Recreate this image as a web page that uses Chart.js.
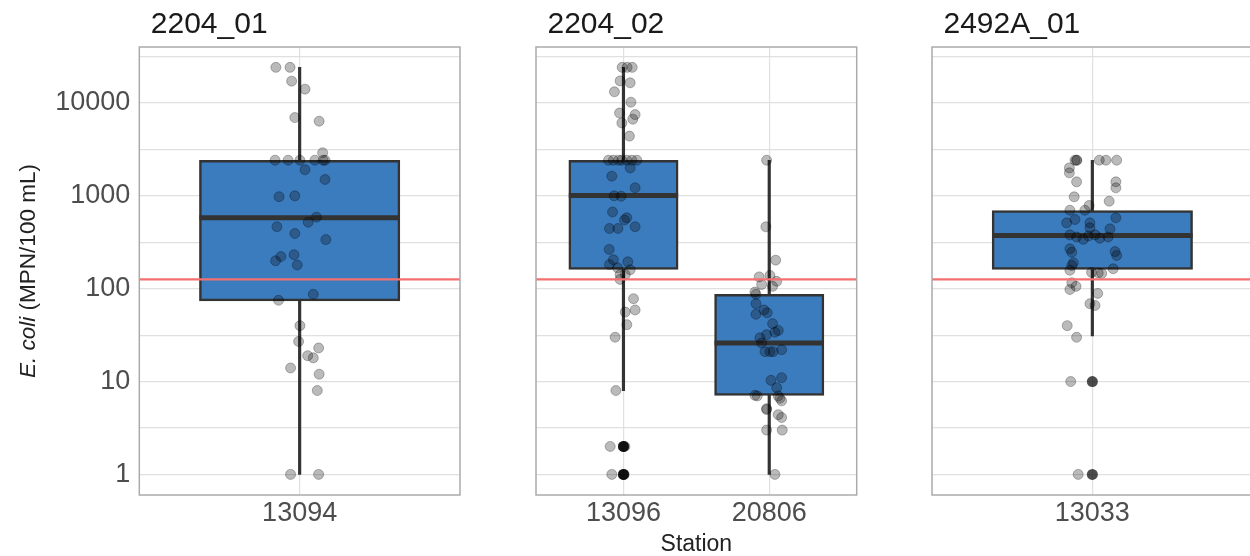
<!DOCTYPE html>
<html>
<head>
<meta charset="utf-8">
<script src="https://cdn.jsdelivr.net/npm/chart.js@4.4.1/dist/chart.umd.min.js"></script>
<style>
  html, body { margin: 0; padding: 0; background: #fff; overflow: hidden; }
  #wrap { position: relative; width: 1250px; height: 556px; overflow: hidden; }
  #wrap canvas { position: absolute; top: 0; }
</style>
</head>
<body>
<div id="wrap">
  <canvas id="p0" width="470" height="556" style="left:0px"></canvas>
  <canvas id="p1" width="400" height="556" style="left:470px"></canvas>
  <canvas id="p2" width="390" height="556" style="left:870px"></canvas>
</div>
<script>
// ---- data ----
const panelTitles = ['2204_01', '2204_02', '2492A_01'];
const panelStations = [[0], [1, 2], [3]];          // indices into stationIds
const stationIds = ['13094', '13096', '20806', '13033'];

// box plot statistics per station (MPN/100 mL)
const whiskerLow  = [1, 8, 1, 31];
const boxQ1       = [74, 161, 7.1, 161];
const boxMedian   = [580, 1010, 26, 374];
const boxQ3       = [2420, 2420, 87, 695];
const whiskerHigh = [24196, 24196, 2420, 2420];
const outliers    = [[], [2, 2, 1, 1], [], [10, 1]];

// jittered samples: value and horizontal offset from the station centre
const sampleValues = [
  [24196, 24196, 17200, 14100, 6970, 6370, 2910, 2420, 2420, 2420, 2420, 2420, 2420, 1910, 1500, 980, 1000,
   590, 520, 465, 393, 338, 222, 232, 200, 180, 87, 75, 40, 27, 23, 19, 18, 14, 12, 8, 1, 1],
  [24196, 24196, 24196, 17300, 16500, 13200, 10200, 7800, 7500, 6700, 6100, 4400, 2420, 2420, 2420, 2420, 2420,
   2420, 2420, 2000, 1630, 1220, 1000, 990, 670, 580, 550, 445, 445, 465, 265, 205, 195, 182, 168, 160, 142,
   142, 126, 78, 59, 56, 41, 30, 8, 2, 2, 1, 1],
  [2420, 464, 203, 134, 139, 120, 111, 106, 92, 87, 69, 53, 59, 55, 42, 35.5, 34, 29.6, 32, 26, 21, 21, 21, 22,
   10.3, 11, 8.6, 7.1, 7, 7, 6.6, 6.2, 5.1, 5, 4.4, 4.1, 3, 3, 1],
  [2420, 2420, 2420, 2420, 2420, 2420, 2000, 1770, 1415, 1415, 1220, 976, 875, 787, 700, 700, 580, 512, 556, 512,
   380, 360, 340, 370, 380, 350, 360, 452, 441, 269, 247, 251, 228, 190, 178, 164, 150, 148, 146, 158, 116, 106,
   98, 89, 69, 66, 40, 30, 10, 1]
];
const sampleOffsets = [
  [-0.089, -0.036, -0.030, 0.020, -0.018, 0.073, 0.086, -0.092, -0.043, 0.001, 0.057, 0.088, 0.095, 0.020, 0.095,
   -0.077, -0.018, 0.063, 0.032, -0.085, -0.018, 0.098, -0.070, -0.021, -0.090, -0.009, 0.051, -0.079, 0.001,
   -0.004, 0.071, 0.030, 0.051, -0.034, 0.073, 0.066, -0.034, 0.071],
  [-0.009, 0.025, 0.060, -0.023, 0.046, -0.062, 0.051, -0.027, 0.080, 0.064, -0.011, 0.041, -0.103, -0.069, -0.034,
   -0.011, 0.023, 0.058, 0.092, 0.046, -0.080, 0.080, -0.064, -0.016, -0.075, 0.023, 0.007, -0.096, -0.038, 0.080,
   -0.098, -0.069, 0.030, -0.096, -0.041, 0.046, -0.023, 0.012, -0.023, 0.069, 0.080, 0.012, 0.023, -0.057, -0.052,
   -0.091, 0.010, -0.080, 0.005],
  [-0.018, -0.023, 0.044, -0.069, 0.005, 0.051, -0.052, 0.023, -0.098, -0.091, -0.091, -0.091, -0.036, -0.014,
   0.023, 0.062, 0.039, -0.064, -0.018, -0.052, -0.029, 0.005, 0.027, 0.085, 0.012, 0.085, 0.051, -0.098, -0.082,
   0.062, 0.073, 0.085, -0.018, -0.018, 0.062, 0.085, -0.018, 0.089, 0.039],
  [-0.065, -0.059, -0.058, 0.026, 0.051, 0.091, -0.086, -0.086, -0.059, 0.088, 0.088, -0.068, 0.063, -0.012, -0.084,
   -0.028, 0.088, -0.096, -0.065, -0.009, -0.084, -0.059, -0.034, -0.015, 0.010, 0.028, 0.059, -0.009, 0.066,
   -0.084, -0.077, 0.085, 0.091, -0.071, -0.077, 0.078, -0.003, 0.022, 0.035, -0.084, -0.077, -0.061, -0.084,
   0.020, -0.009, 0.010, -0.094, -0.059, -0.081, -0.053]
];

const referenceValue = 126;
const yTickValues = [1, 10, 100, 1000, 10000];
const yGridValues = [1, 3.162, 10, 31.62, 100, 316.2, 1000, 3162, 10000, 31623];
const yLimits = [0.604, 40100];

// ---- layout / style ----
const FONT = '"Liberation Sans", Arial, Helvetica, sans-serif';
const PANEL_W = 320.7;
const BOX_W = 0.75;
const axisWidth = [139.3, 66, 62];
const rightPad = [10, 13.3, 7.3];
const BOX_FILL = '#3b7cbf';
const DARK = '#333333';
const GRID = '#e0e0e0';
const BORDER = '#ababab';

Chart.defaults.font.family = FONT;

const panelDecor = {
  id: 'panelDecor',
  afterDraw(chart, args, opts) {
    const { ctx, chartArea: a } = chart;
    ctx.save();
    ctx.strokeStyle = BORDER;
    ctx.lineWidth = 1.5;
    ctx.strokeRect(a.left, a.top, a.right - a.left, a.bottom - a.top);

    ctx.fillStyle = '#1a1a1a';
    ctx.font = '30px ' + FONT;
    ctx.textBaseline = 'alphabetic';
    ctx.fillText(opts.title, a.left + 11.5, 33.3);

    if (opts.yTitle) {
      const f1 = 'italic 22.5px ' + FONT, f2 = '22.5px ' + FONT;
      const t1 = 'E. coli', t2 = ' (MPN/100 mL)';
      ctx.translate(29, (a.top + a.bottom) / 2);
      ctx.rotate(-Math.PI / 2);
      ctx.font = f1; const w1 = ctx.measureText(t1).width;
      ctx.font = f2; const w2 = ctx.measureText(t2).width;
      const x0 = -(w1 + w2) / 2;
      ctx.textBaseline = 'middle';
      ctx.fillStyle = '#222';
      ctx.font = f1; ctx.fillText(t1, x0, 0);
      ctx.font = f2; ctx.fillText(t2, x0 + w1, 0);
    }
    ctx.restore();
  }
};

function makePanel(p) {
  const ids = panelStations[p];
  const xMin = 0.4, xMax = ids.length + 0.6;
  const boxPx = BOX_W * PANEL_W / (xMax - xMin);

  const jitter = [];
  const outl = [];
  ids.forEach((s, i) => {
    sampleValues[s].forEach((v, k) => jitter.push({ x: i + 1 + sampleOffsets[s][k], y: v }));
    outliers[s].forEach(v => outl.push({ x: i + 1, y: v }));
  });

  const datasets = [
    { type: 'bar', data: ids.map((s, i) => ({ x: i + 1, y: [whiskerLow[s], whiskerHigh[s]] })),
      backgroundColor: DARK, barThickness: 2.5, grouped: false, order: 6 },
    { type: 'bar', data: ids.map((s, i) => ({ x: i + 1, y: [boxQ1[s], boxQ3[s]] })),
      backgroundColor: BOX_FILL, borderColor: DARK, borderWidth: 2.5, borderSkipped: false,
      barThickness: boxPx, grouped: false, order: 5 },
    { type: 'scatter', data: ids.map((s, i) => ({ x: i + 1, y: boxMedian[s] })),
      pointStyle: 'line', pointRadius: boxPx / 2, borderColor: DARK, borderWidth: 5, order: 4 },
    { type: 'scatter', data: outl, pointRadius: 5.5,
      backgroundColor: 'rgba(0,0,0,0.7)', borderWidth: 0, order: 3 },
    { type: 'scatter', data: jitter, pointRadius: 5,
      backgroundColor: 'rgba(0,0,0,0.27)', borderColor: 'rgba(0,0,0,0.27)', borderWidth: 1, order: 2 },
    { type: 'line', data: [{ x: xMin, y: referenceValue }, { x: xMax, y: referenceValue }],
      borderColor: '#f46f6f', borderWidth: 2.2, pointRadius: 0, order: 1 }
  ];

  new Chart(document.getElementById('p' + p), {
    type: 'bar',
    data: { datasets },
    options: {
      responsive: false,
      animation: false,
      events: [],
      layout: { autoPadding: false, padding: { top: 47, right: rightPad[p], bottom: 0, left: 0 } },
      plugins: {
        legend: { display: false },
        tooltip: { enabled: false },
        panelDecor: { title: panelTitles[p], yTitle: p === 0 }
      },
      scales: {
        x: {
          type: 'linear', min: xMin, max: xMax, offset: false,
          afterBuildTicks: s => { s.ticks = ids.map((_, i) => ({ value: i + 1 })); },
          afterFit: s => { s.height = 61; },
          ticks: {
            callback: v => stationIds[ids[v - 1]],
            font: { size: 27 }, color: '#4d4d4d', padding: 2, autoSkip: false, maxRotation: 0
          },
          grid: { color: GRID, lineWidth: 1.2, drawTicks: false, offset: false },
          border: { display: false },
          title: { display: p === 1, text: 'Station', color: '#222',
                   font: { size: 23, lineHeight: 1 }, padding: 0 }
        },
        y: {
          type: 'logarithmic', min: yLimits[0], max: yLimits[1],
          afterBuildTicks: s => { s.ticks = yGridValues.map(v => ({ value: v })); },
          afterFit: s => { s.width = axisWidth[p]; },
          ticks: {
            display: p === 0,
            callback: v => yTickValues.includes(v) ? String(v) : '',
            font: { size: 27 }, color: '#4d4d4d', padding: 9, autoSkip: false
          },
          grid: { color: GRID, lineWidth: 1.2, drawTicks: false },
          border: { display: false }
        }
      }
    },
    plugins: [panelDecor]
  });
}

panelTitles.forEach((_, p) => makePanel(p));
</script>
</body>
</html>
